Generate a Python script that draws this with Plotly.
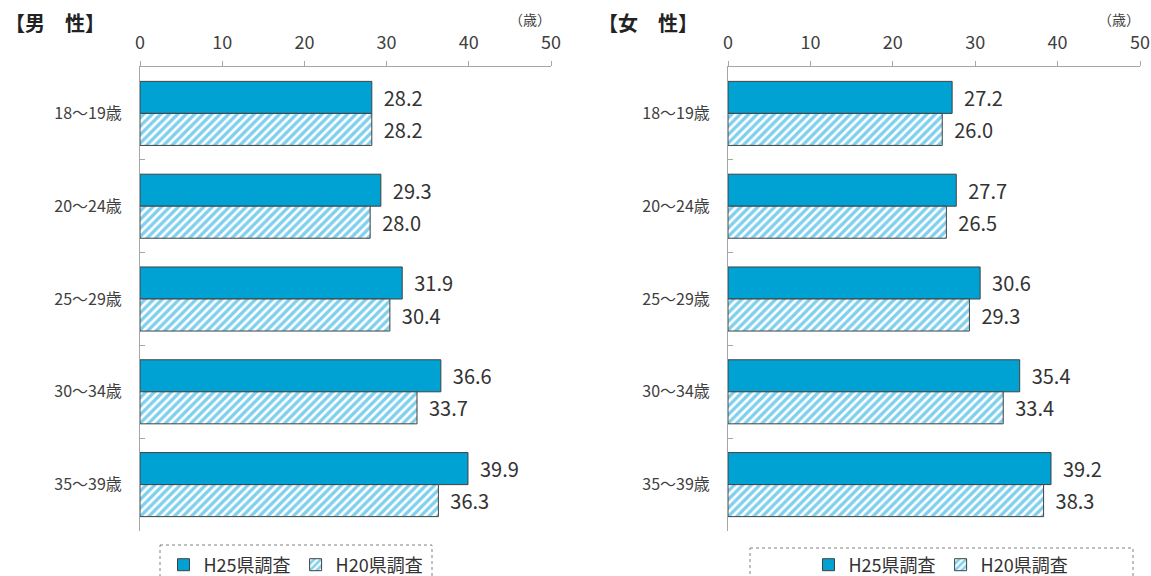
import plotly.graph_objects as go

categories = ["18～19歳", "20～24歳", "25～29歳", "30～34歳", "35～39歳"]
male_h25 = [28.2, 29.3, 31.9, 36.6, 39.9]
male_h20 = [28.2, 28.0, 30.4, 33.7, 36.3]
female_h25 = [27.2, 27.7, 30.6, 35.4, 39.2]
female_h20 = [26.0, 26.5, 29.3, 33.4, 38.3]
series_names = ["H25県調査", "H20県調査"]
x_ticks = [0, 10, 20, 30, 40, 50]
panel_titles = ["【男\u3000性】", "【女\u3000性】"]
unit_label = "（歳）"

FONT = "Noto Sans CJK JP, Noto Sans, sans-serif"
SOLID = "#00a2d4"
STRIPE = "#00a0dc"
EDGE = "#404040"
W, H = 1151, 576
TOP, BOT = 67, 531  # plot area in pixels


def py(p):
    """pixel y -> paper y (paper is the plot area)"""
    return (BOT - p) / (BOT - TOP)


fig = go.Figure()

panels = [
    (male_h25, male_h20, "x", "y", "legend"),
    (female_h25, female_h20, "x2", "y2", "legend2"),
]
for v25, v20, xa, ya, lg in panels:
    fig.add_trace(go.Bar(
        y=categories, x=v25, orientation="h", name=series_names[0],
        xaxis=xa, yaxis=ya, legend=lg,
        marker=dict(color=SOLID, line=dict(color=EDGE, width=1)),
        texttemplate="\u00a0\u00a0%{x:.1f}", textposition="outside",
        textfont=dict(size=20, color="#333333", family=FONT),
        cliponaxis=False,
    ))
    fig.add_trace(go.Bar(
        y=categories, x=v20, orientation="h", name=series_names[1],
        xaxis=xa, yaxis=ya, legend=lg,
        marker=dict(color="white", line=dict(color=EDGE, width=1),
                    pattern=dict(shape="/", fgcolor=STRIPE, bgcolor="white",
                                 size=6, solidity=0.55)),
        texttemplate="\u00a0\u00a0%{x:.1f}", textposition="outside",
        textfont=dict(size=20, color="#333333", family=FONT),
        cliponaxis=False,
    ))

xdom = [[140 / W, 551 / W], [728 / W, 1140 / W]]


def xaxis_cfg(dom, anchor):
    return dict(domain=dom, range=[0, 50], side="top", tickvals=x_ticks,
                showline=True, linecolor="#a6a6a6", linewidth=1,
                ticks="outside", ticklen=5, tickcolor="#a6a6a6",
                ticklabelstandoff=5, showgrid=False, zeroline=False,
                tickfont=dict(size=18, color="#404040", family=FONT),
                anchor=anchor, fixedrange=True, automargin=False)


def yaxis_cfg(anchor):
    return dict(domain=[0, 1], autorange="reversed", type="category",
                showline=True, linecolor="#a6a6a6", linewidth=1,
                ticks="inside", ticklen=5, tickcolor="#a6a6a6",
                tickson="boundaries", showgrid=False, zeroline=False,
                ticklabelstandoff=14,
                tickfont=dict(size=16, color="#404040", family=FONT),
                anchor=anchor, automargin=False, fixedrange=True)


legend_cfg = dict(orientation="h", yanchor="middle", y=py(565), xanchor="center",
                  bgcolor="rgba(0,0,0,0)", borderwidth=0,
                  font=dict(size=18, color="#333333", family=FONT),
                  itemwidth=30, tracegroupgap=0)

fig.update_layout(
    width=W, height=H,
    margin=dict(l=0, r=0, t=TOP, b=H - BOT, autoexpand=False),
    paper_bgcolor="white", plot_bgcolor="white",
    barmode="group", bargap=0.31, bargroupgap=0,
    font=dict(family=FONT),
    xaxis=xaxis_cfg(xdom[0], "y"),
    yaxis=yaxis_cfg("x"),
    xaxis2=xaxis_cfg(xdom[1], "y2"),
    yaxis2=yaxis_cfg("x2"),
    legend=dict(legend_cfg, x=296 / W),
    legend2=dict(legend_cfg, x=941 / W),
    showlegend=True,
)

# panel titles and unit labels
for title, tx, ux in [(panel_titles[0], 3, 530), (panel_titles[1], 596, 1119)]:
    fig.add_annotation(text=f"<b>{title}</b>", xref="paper", yref="paper",
                       x=tx / W, y=py(23), xanchor="left", yanchor="middle",
                       showarrow=False, font=dict(size=20, color="#222222", family=FONT))
    fig.add_annotation(text=unit_label, xref="paper", yref="paper",
                       x=ux / W, y=py(19), xanchor="center", yanchor="middle",
                       showarrow=False, font=dict(size=14, color="#404040", family=FONT))

# dashed legend boxes
for x0, x1, top in [(160, 432, 545), (750, 1133, 548)]:
    fig.add_shape(type="rect", xref="paper", yref="paper",
                  x0=x0 / W, x1=x1 / W, y0=py(top), y1=py(610),
                  line=dict(color="#808080", width=1, dash="dot"),
                  fillcolor="rgba(0,0,0,0)")

fig.write_html("out.html", config={"displayModeBar": False},
               post_script="document.body.style.margin='0';document.body.style.overflow='hidden';")
